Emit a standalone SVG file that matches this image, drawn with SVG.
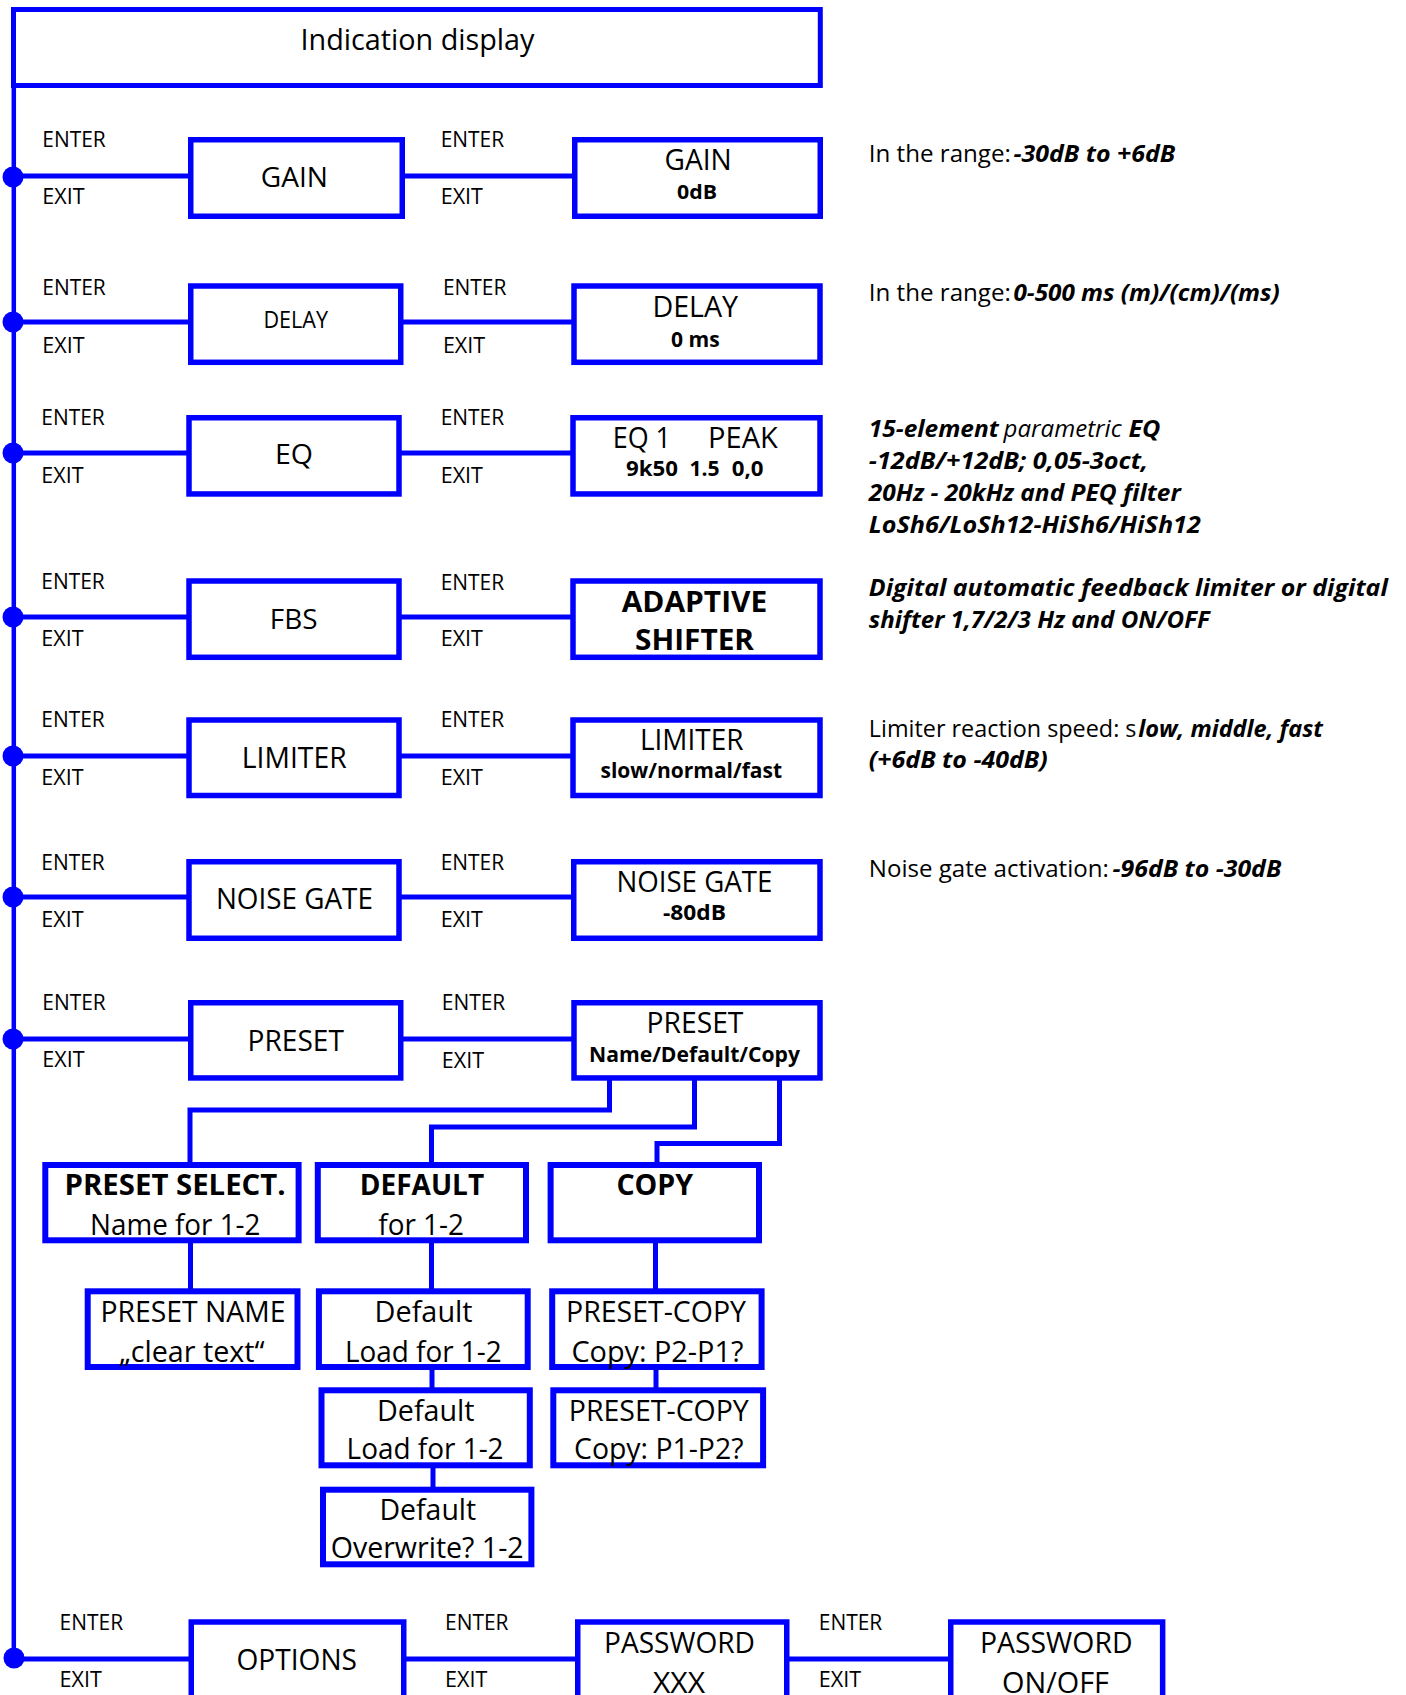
<svg xmlns="http://www.w3.org/2000/svg" width="1406" height="1695" viewBox="0 0 1406 1695">
<style>
.bx{fill:#fff;stroke:#0000ff;stroke-width:5.5}
.sb{fill:#fff;stroke:#0000ff;stroke-width:6}
.cn{fill:none;stroke:#0000ff;stroke-width:5}
.dot{fill:#0000ff}
text{font-family:"Open Sans","Noto Sans","Liberation Sans",sans-serif;fill:#000}
.ee{font-size:21px}
.l28{font-size:28px}
.l29{font-size:29px}
.l30{font-size:30px}
.b20{font-size:20px;font-weight:bold}
.b21{font-size:21px;font-weight:bold}
.b28{font-size:28px;font-weight:bold}
.r{font-size:23px}
.bi{font-size:23px;font-weight:bold;font-style:italic}
.it{font-size:23px;font-style:italic}
</style>
<rect x="0" y="0" width="1406" height="1695" fill="#fff"/>

<g id="connectors">
<line class="cn" x1="13.8" y1="85" x2="13.8" y2="1659" style="stroke-width:4.5"/>
<path class="cn" d="M13 176H190M404 176H574"/>
<path class="cn" d="M13 322H190M402 322H573"/>
<path class="cn" d="M13 453H188M400 453H572"/>
<path class="cn" d="M13 617H188M400 617H572"/>
<path class="cn" d="M13 756H188M400 756H572"/>
<path class="cn" d="M13 897H188M400 897H572"/>
<path class="cn" d="M13 1039H190M402 1039H573"/>
<path class="cn" d="M13 1659H190M405 1659H577M788 1659H950"/>
<path class="cn" d="M609.5 1080V1110H190V1163"/>
<path class="cn" d="M694.5 1080V1127H431.5V1163"/>
<path class="cn" d="M779.5 1080V1143.5H657V1163"/>
<path class="cn" d="M190.5 1242V1289"/>
<path class="cn" d="M431.5 1242V1289M432 1369V1388M433 1467V1488"/>
<path class="cn" d="M655.5 1242V1289M656 1369V1388"/>
<circle class="dot" cx="13" cy="177" r="10.5"/>
<circle class="dot" cx="13" cy="322" r="10.5"/>
<circle class="dot" cx="13" cy="453" r="10.5"/>
<circle class="dot" cx="13" cy="617" r="10.5"/>
<circle class="dot" cx="13" cy="756" r="10.5"/>
<circle class="dot" cx="13" cy="897" r="10.5"/>
<circle class="dot" cx="13" cy="1039" r="10.5"/>
<circle class="dot" cx="14" cy="1658" r="10.5"/>
</g>

<g id="edge-labels">
<text class="ee" x="42.3" y="147" textLength="63.5" lengthAdjust="spacingAndGlyphs">ENTER</text>
<text class="ee" x="42.3" y="204" textLength="42.3" lengthAdjust="spacingAndGlyphs">EXIT</text>
<text class="ee" x="440.7" y="147" textLength="63.5" lengthAdjust="spacingAndGlyphs">ENTER</text>
<text class="ee" x="440.7" y="204" textLength="42.3" lengthAdjust="spacingAndGlyphs">EXIT</text>

<text class="ee" x="42.3" y="295" textLength="63.5" lengthAdjust="spacingAndGlyphs">ENTER</text>
<text class="ee" x="42.3" y="352.5" textLength="42.3" lengthAdjust="spacingAndGlyphs">EXIT</text>
<text class="ee" x="442.9" y="295" textLength="63.5" lengthAdjust="spacingAndGlyphs">ENTER</text>
<text class="ee" x="442.9" y="352.5" textLength="42.3" lengthAdjust="spacingAndGlyphs">EXIT</text>

<text class="ee" x="41.3" y="425" textLength="63.5" lengthAdjust="spacingAndGlyphs">ENTER</text>
<text class="ee" x="41.3" y="483" textLength="42.3" lengthAdjust="spacingAndGlyphs">EXIT</text>
<text class="ee" x="440.7" y="425" textLength="63.5" lengthAdjust="spacingAndGlyphs">ENTER</text>
<text class="ee" x="440.7" y="483" textLength="42.3" lengthAdjust="spacingAndGlyphs">EXIT</text>

<text class="ee" x="41.3" y="589" textLength="63.5" lengthAdjust="spacingAndGlyphs">ENTER</text>
<text class="ee" x="41.3" y="646" textLength="42.3" lengthAdjust="spacingAndGlyphs">EXIT</text>
<text class="ee" x="440.7" y="589.5" textLength="63.5" lengthAdjust="spacingAndGlyphs">ENTER</text>
<text class="ee" x="440.7" y="646" textLength="42.3" lengthAdjust="spacingAndGlyphs">EXIT</text>

<text class="ee" x="41.3" y="727" textLength="63.5" lengthAdjust="spacingAndGlyphs">ENTER</text>
<text class="ee" x="41.3" y="785" textLength="42.3" lengthAdjust="spacingAndGlyphs">EXIT</text>
<text class="ee" x="440.7" y="727" textLength="63.5" lengthAdjust="spacingAndGlyphs">ENTER</text>
<text class="ee" x="440.7" y="785" textLength="42.3" lengthAdjust="spacingAndGlyphs">EXIT</text>

<text class="ee" x="41.3" y="870" textLength="63.5" lengthAdjust="spacingAndGlyphs">ENTER</text>
<text class="ee" x="41.3" y="927" textLength="42.3" lengthAdjust="spacingAndGlyphs">EXIT</text>
<text class="ee" x="440.7" y="870" textLength="63.5" lengthAdjust="spacingAndGlyphs">ENTER</text>
<text class="ee" x="440.7" y="927" textLength="42.3" lengthAdjust="spacingAndGlyphs">EXIT</text>

<text class="ee" x="42.3" y="1010" textLength="63.5" lengthAdjust="spacingAndGlyphs">ENTER</text>
<text class="ee" x="42.3" y="1067" textLength="42.3" lengthAdjust="spacingAndGlyphs">EXIT</text>
<text class="ee" x="441.8" y="1010" textLength="63.5" lengthAdjust="spacingAndGlyphs">ENTER</text>
<text class="ee" x="441.8" y="1068" textLength="42.3" lengthAdjust="spacingAndGlyphs">EXIT</text>

<text class="ee" x="59.6" y="1630" textLength="63.5" lengthAdjust="spacingAndGlyphs">ENTER</text>
<text class="ee" x="59.6" y="1687" textLength="42.3" lengthAdjust="spacingAndGlyphs">EXIT</text>
<text class="ee" x="445" y="1630" textLength="63.5" lengthAdjust="spacingAndGlyphs">ENTER</text>
<text class="ee" x="445" y="1687" textLength="42.3" lengthAdjust="spacingAndGlyphs">EXIT</text>
<text class="ee" x="818.8" y="1630" textLength="63.5" lengthAdjust="spacingAndGlyphs">ENTER</text>
<text class="ee" x="818.8" y="1687" textLength="42.3" lengthAdjust="spacingAndGlyphs">EXIT</text>
</g>

<g id="indication-display">
<rect x="13.5" y="9.5" width="806.8" height="76" fill="#fff" stroke="#0000ff" stroke-width="5"/>
<text class="l30" x="300.5" y="50" textLength="234" lengthAdjust="spacingAndGlyphs">Indication display</text>
</g>

<g id="gain">
<rect class="bx" x="190.75" y="139.75" width="211.5" height="76.5"/>
<text class="l28" x="260.8" y="187" textLength="67.2" lengthAdjust="spacingAndGlyphs">GAIN</text>
</g>
<g id="gain-value">
<rect class="bx" x="574.75" y="139.75" width="245.5" height="76.5"/>
<text class="l29" x="664.5" y="170" textLength="67.2" lengthAdjust="spacingAndGlyphs">GAIN</text>
<text class="b20" x="677" y="199" textLength="40" lengthAdjust="spacingAndGlyphs">0dB</text>
</g>

<g id="delay">
<rect class="bx" x="190.75" y="286" width="210" height="76.3"/>
<text class="l28" x="263.5" y="328" textLength="64.5" lengthAdjust="spacingAndGlyphs" style="font-size:23px">DELAY</text>
</g>
<g id="delay-value">
<rect class="bx" x="574" y="286" width="246" height="76.3"/>
<text class="l30" x="652.4" y="317" textLength="85.7" lengthAdjust="spacingAndGlyphs">DELAY</text>
<text class="b21" x="671" y="346.5" textLength="48.7" lengthAdjust="spacingAndGlyphs">0 ms</text>
</g>

<g id="eq">
<rect class="bx" x="189" y="417.75" width="210" height="76.2"/>
<text class="l28" x="275" y="463.5" textLength="38" lengthAdjust="spacingAndGlyphs">EQ</text>
</g>
<g id="eq-value">
<rect class="bx" x="573" y="417.75" width="247" height="76.2"/>
<text class="l29" y="448"><tspan x="612.7" textLength="58.3" lengthAdjust="spacingAndGlyphs">EQ 1</tspan><tspan x="708" textLength="69.8" lengthAdjust="spacingAndGlyphs">PEAK</tspan></text>
<text class="b21" y="475.5"><tspan x="626" textLength="52" lengthAdjust="spacingAndGlyphs">9k50</tspan><tspan x="689.4" textLength="30.2" lengthAdjust="spacingAndGlyphs">1.5</tspan><tspan x="731.7" textLength="31.8" lengthAdjust="spacingAndGlyphs">0,0</tspan></text>
</g>

<g id="fbs">
<rect class="bx" x="189" y="581" width="210" height="76.3"/>
<text class="l28" x="269.8" y="629" textLength="47.7" lengthAdjust="spacingAndGlyphs">FBS</text>
</g>
<g id="fbs-value">
<rect class="bx" x="573" y="581" width="247" height="76.3"/>
<text class="b28" x="621.7" y="611.7" textLength="145.5" lengthAdjust="spacingAndGlyphs">ADAPTIVE</text>
<text class="b28" x="635" y="650" textLength="119" lengthAdjust="spacingAndGlyphs">SHIFTER</text>
</g>

<g id="limiter">
<rect class="bx" x="189" y="720" width="210" height="75.5"/>
<text class="l29" x="241.8" y="767.7" textLength="104.8" lengthAdjust="spacingAndGlyphs">LIMITER</text>
</g>
<g id="limiter-value">
<rect class="bx" x="573" y="720" width="247" height="75.5"/>
<text class="l29" x="640" y="750" textLength="103.4" lengthAdjust="spacingAndGlyphs">LIMITER</text>
<text class="b21" x="600.5" y="777.5" textLength="181.5" lengthAdjust="spacingAndGlyphs">slow/normal/fast</text>
</g>

<g id="noise-gate">
<rect class="bx" x="189" y="861.75" width="210" height="76.5"/>
<text class="l29" x="215.9" y="909.3" textLength="157" lengthAdjust="spacingAndGlyphs">NOISE GATE</text>
</g>
<g id="noise-gate-value">
<rect class="bx" x="573.75" y="861.75" width="246.25" height="76.5"/>
<text class="l29" x="616.4" y="892.3" textLength="156" lengthAdjust="spacingAndGlyphs">NOISE GATE</text>
<text class="b21" x="663" y="920" textLength="63" lengthAdjust="spacingAndGlyphs">-80dB</text>
</g>

<g id="preset">
<rect class="bx" x="190.75" y="1002.75" width="210" height="75.2"/>
<text class="l29" x="247.6" y="1050.7" textLength="96.3" lengthAdjust="spacingAndGlyphs">PRESET</text>
</g>
<g id="preset-value">
<rect class="bx" x="574" y="1002.75" width="246" height="75.2"/>
<text class="l29" x="646.6" y="1033.3" textLength="96.8" lengthAdjust="spacingAndGlyphs">PRESET</text>
<text class="b21" x="589" y="1061.5" textLength="211" lengthAdjust="spacingAndGlyphs">Name/Default/Copy</text>
</g>

<g id="preset-select">
<rect class="sb" x="45.3" y="1165" width="253.3" height="75.3"/>
<text class="b28" x="64.6" y="1195" textLength="221" lengthAdjust="spacingAndGlyphs">PRESET SELECT.</text>
<text class="l30" x="90" y="1235" textLength="170.4" lengthAdjust="spacingAndGlyphs">Name for 1-2</text>
</g>
<g id="default">
<rect class="sb" x="317.8" y="1165" width="208.2" height="75.3"/>
<text class="b28" x="359.8" y="1195" textLength="124.3" lengthAdjust="spacingAndGlyphs">DEFAULT</text>
<text class="l30" x="378.3" y="1235" textLength="85.7" lengthAdjust="spacingAndGlyphs">for 1-2</text>
</g>
<g id="copy">
<rect class="sb" x="550.6" y="1165" width="208.4" height="75.3"/>
<text class="b28" x="616.4" y="1195" textLength="76.7" lengthAdjust="spacingAndGlyphs">COPY</text>
</g>

<g id="preset-name">
<rect class="sb" x="87.7" y="1291.3" width="209.8" height="75.7"/>
<text class="l30" x="100.5" y="1321.7" textLength="185" lengthAdjust="spacingAndGlyphs">PRESET NAME</text>
<text class="l30" x="119" y="1361.7" textLength="145.5" lengthAdjust="spacingAndGlyphs">„clear text“</text>
</g>
<g id="default-load-1">
<rect class="sb" x="318.9" y="1291.3" width="208.8" height="75.7"/>
<text class="l30" x="374.6" y="1321.7" textLength="98" lengthAdjust="spacingAndGlyphs">Default</text>
<text class="l30" x="345" y="1361.7" textLength="156.6" lengthAdjust="spacingAndGlyphs">Load for 1-2</text>
</g>
<g id="preset-copy-1">
<rect class="sb" x="552.2" y="1291.3" width="209.4" height="75.7"/>
<text class="l30" x="566" y="1321.7" textLength="180" lengthAdjust="spacingAndGlyphs">PRESET-COPY</text>
<text class="l30" x="571.4" y="1361.7" textLength="172" lengthAdjust="spacingAndGlyphs">Copy: P2-P1?</text>
</g>
<g id="default-load-2">
<rect class="sb" x="321.5" y="1390.3" width="208.3" height="75"/>
<text class="l30" x="377" y="1420.7" textLength="97.6" lengthAdjust="spacingAndGlyphs">Default</text>
<text class="l30" x="346.6" y="1459.3" textLength="157" lengthAdjust="spacingAndGlyphs">Load for 1-2</text>
</g>
<g id="preset-copy-2">
<rect class="sb" x="553.3" y="1390.3" width="209.8" height="75"/>
<text class="l30" x="568.8" y="1420.7" textLength="180" lengthAdjust="spacingAndGlyphs">PRESET-COPY</text>
<text class="l30" x="574" y="1459.3" textLength="169.4" lengthAdjust="spacingAndGlyphs">Copy: P1-P2?</text>
</g>
<g id="default-overwrite">
<rect class="sb" x="323" y="1489.7" width="208.4" height="74.6"/>
<text class="l30" x="379.4" y="1520" textLength="96.8" lengthAdjust="spacingAndGlyphs">Default</text>
<text class="l30" x="330.7" y="1558.3" textLength="193" lengthAdjust="spacingAndGlyphs">Overwrite? 1-2</text>
</g>

<g id="options">
<rect class="bx" x="191.25" y="1622" width="212.5" height="100"/>
<text class="l29" x="236.5" y="1670" textLength="120.5" lengthAdjust="spacingAndGlyphs">OPTIONS</text>
</g>
<g id="password">
<rect class="bx" x="577.75" y="1622" width="209" height="100"/>
<text class="l30" x="604" y="1653" textLength="151" lengthAdjust="spacingAndGlyphs">PASSWORD</text>
<text class="l30" x="653" y="1693" textLength="52" lengthAdjust="spacingAndGlyphs">XXX</text>
</g>
<g id="password-onoff">
<rect class="bx" x="950.75" y="1622" width="211.9" height="100"/>
<text class="l30" x="980" y="1653" textLength="152.5" lengthAdjust="spacingAndGlyphs">PASSWORD</text>
<text class="l30" x="1002" y="1693" textLength="107" lengthAdjust="spacingAndGlyphs">ON/OFF</text>
</g>

<g id="notes">
<text class="r" x="868.8" y="162" textLength="142" lengthAdjust="spacingAndGlyphs">In the range:</text>
<text class="bi" x="1013.5" y="162" textLength="161.8" lengthAdjust="spacingAndGlyphs">-30dB to +6dB</text>
<text class="r" x="868.8" y="300.5" textLength="142" lengthAdjust="spacingAndGlyphs">In the range:</text>
<text class="bi" x="1013.5" y="300.5" textLength="266.3" lengthAdjust="spacingAndGlyphs">0-500 ms (m)/(cm)/(ms)</text>
<text class="bi" x="868.8" y="437" textLength="130" lengthAdjust="spacingAndGlyphs">15-element</text>
<text class="it" x="1003.6" y="437" textLength="118" lengthAdjust="spacingAndGlyphs">parametric</text>
<text class="bi" x="1128.4" y="437" textLength="32" lengthAdjust="spacingAndGlyphs">EQ</text>
<text class="bi" x="868.8" y="469" textLength="279.5" lengthAdjust="spacingAndGlyphs">-12dB/+12dB; 0,05-3oct,</text>
<text class="bi" x="868.8" y="501" textLength="312" lengthAdjust="spacingAndGlyphs">20Hz - 20kHz and PEQ filter</text>
<text class="bi" x="868.8" y="533" textLength="332" lengthAdjust="spacingAndGlyphs">LoSh6/LoSh12-HiSh6/HiSh12</text>
<text class="bi" x="868.8" y="596" textLength="519" lengthAdjust="spacingAndGlyphs">Digital automatic feedback limiter or digital</text>
<text class="bi" x="868.8" y="628" textLength="341" lengthAdjust="spacingAndGlyphs">shifter 1,7/2/3 Hz and ON/OFF</text>
<text class="r" x="868.8" y="737" textLength="267.7" lengthAdjust="spacingAndGlyphs">Limiter reaction speed: s</text>
<text class="bi" x="1138.3" y="737" textLength="184.7" lengthAdjust="spacingAndGlyphs">low, middle, fast</text>
<text class="bi" x="868.8" y="768" textLength="179" lengthAdjust="spacingAndGlyphs">(+6dB to -40dB)</text>
<text class="r" x="868.8" y="877" textLength="240" lengthAdjust="spacingAndGlyphs">Noise gate activation:</text>
<text class="bi" x="1112.5" y="877" textLength="168.8" lengthAdjust="spacingAndGlyphs">-96dB to -30dB</text>
</g>
</svg>
